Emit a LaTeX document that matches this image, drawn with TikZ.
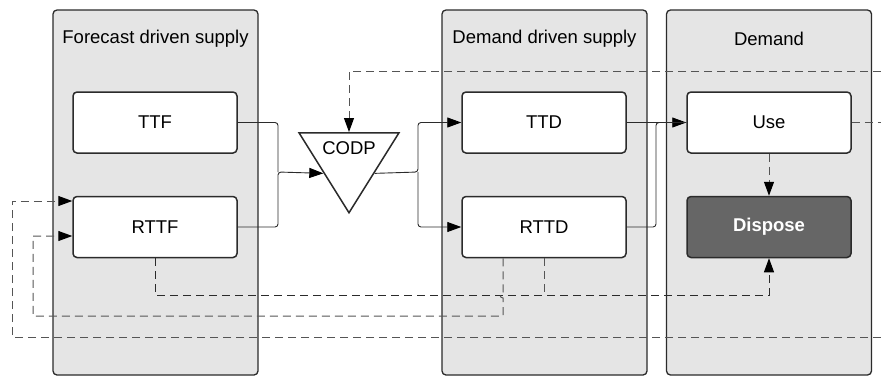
\documentclass[tikz,border=0pt]{standalone}
\usepackage{fontspec}
\setmainfont{Liberation Sans}
\usepackage{tikz}
\usetikzlibrary{arrows.meta,positioning,shapes.geometric}
\definecolor{lanefill}{HTML}{E5E5E5}
\definecolor{linedark}{HTML}{2B2B2B}
\definecolor{linegray}{HTML}{555555}
\definecolor{disposefill}{HTML}{666666}

\begin{document}
\begin{tikzpicture}[
  x=1pt, y=-1pt,
  font=\fontsize{18.5}{21}\selectfont,
  lane/.style={draw=linedark, line width=1.3pt, rounded corners=4pt, fill=lanefill,
    minimum width=205pt, minimum height=365pt, inner sep=0pt},
  lanetitle/.style={inner sep=0pt},
  box/.style={draw=linedark, line width=1.5pt, rounded corners=4pt, fill=white,
    minimum width=164pt, minimum height=61pt, inner sep=0pt},
  codpshape/.style={isosceles triangle, isosceles triangle stretches, shape border rotate=270,
    draw=linedark, line width=1.5pt, fill=white, minimum width=100pt, minimum height=80pt,
    inner sep=0pt},
  flow/.style={draw=linedark, line width=0.9pt, rounded corners=3pt},
  fb/.style={draw=linedark, line width=1pt, dash pattern=on 8pt off 5pt},
  fbgray/.style={fb, draw=linegray},
  tip/.style={-{Triangle[length=14pt,width=10pt,color=black]}}
]
\useasboundingbox (0,0) rectangle (881,376);

% swim lanes
\node[lane] (fcast) at (155.5,192.5) {};
\node[lane] (dsupply) at (544.5,192.5) {};
\node[lane] (demand) at (769,192.5) {};
\node[lanetitle] (fcasttitle) at (fcast.north |- 0,39) {Forecast driven supply};
\node[lanetitle] (dsupplytitle) at (dsupply.north |- 0,39) {Demand driven supply};
\node[lanetitle] (demandtitle) at (demand.north |- 0,39) {Demand};

% steps
\node[box] (ttf) at (155,122.5) {TTF};
\node[box, below=42pt of ttf] (rttf) {RTTF};
\node[box] (ttd) at (544,122.5) {TTD};
\node[box, below=42pt of ttd] (rttd) {RTTD};
\node[box] (use) at (769,122.5) {Use};
\node[box, below=42pt of use, fill=disposefill, text=white, font=\fontsize{18.5}{21}\selectfont\bfseries] (dispose) {Dispose};
\node[codpshape, anchor=lower side] (codp) at (349,132) {};
\node (codptext) at (349,148) {CODP};

% joins
\coordinate (mergeL) at (278,172);
\coordinate (splitR) at (418,172);
\coordinate (mergeU) at (656,122.5);
\coordinate (topR) at (881,71);
\coordinate (useR) at (881,122.5);
\coordinate (botR) at (881,337);
\coordinate (lowA) at (769,295);

% material flow
\draw[flow] (ttf.east) -| (mergeL);
\draw[flow, tip] (rttf.east) -| (mergeL) -- (codp.right side);
\draw[flow, tip] (codp.left side) -- (splitR) |- (ttd.west);
\draw[flow, tip] (splitR) |- (rttd.west);
\draw[flow, tip] (ttd) -- (use);
\draw[flow] (rttd.east) -| (mergeU) -- (use.west);

% information flow
\draw[fbgray, tip] (topR) -| (codp.lower side);
\draw[fbgray] (use) -- (useR);
\draw[fbgray, tip] (use) -- (dispose);
\draw[fb, tip] (rttf.south) |- (lowA) -- (dispose.south);
\draw[fbgray] (rttd.south) -- (rttd.south |- lowA);
\draw[fbgray, tip] (rttd.south -| 503,0) -- (503,292)
  arc[start angle=90, end angle=270, radius=3pt] -- (503,316) -| (33,236)
  -- (rttf.west |- 0,236);
\draw[fbgray, tip] (botR) -| (12,201) -- (rttf.west |- 0,201);
\end{tikzpicture}
\end{document}
